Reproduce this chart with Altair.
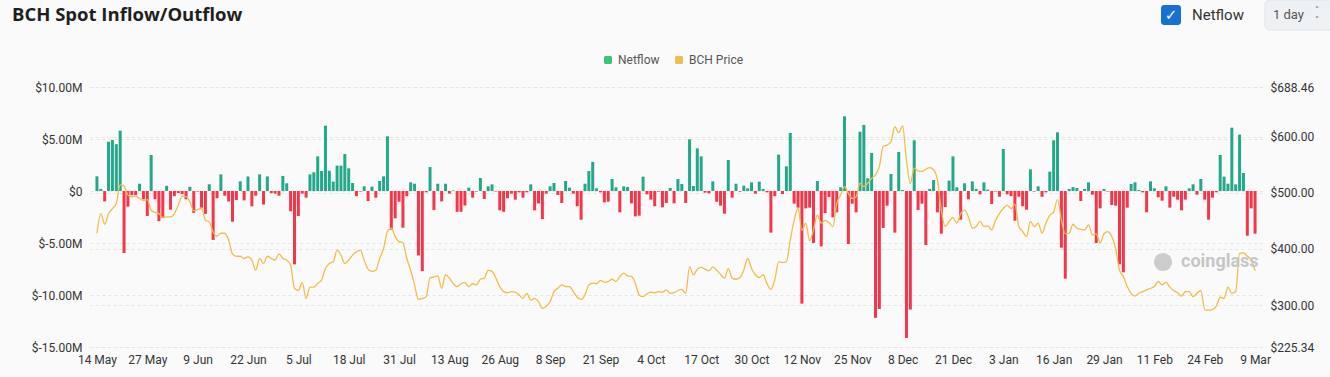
import altair as alt
import pandas as pd
import datetime as dt

# ---------------- data ----------------
start_date = "2024-05-14"
n_days = 300

netflow_m = [
    1.41, 0.2, -1.0, 4.74, 4.9, 4.5, 5.8, -5.96, -1.5, -0.4,
    -0.4, 0.7, -0.8, -2.4, 3.46, -0.8, -2.9, -2.6, 0.5, -1.8,
    -0.5, -0.2, -0.3, -0.8, 0.4, -2.1, -0.05, -1.6, -2.2, 0.65,
    -4.7, -0.7, 1.6, -0.45, -1.0, -2.95, -0.87, 0.93, -0.9, 1.4,
    -1.47, -0.45, 1.6,
    -1.3, 1.4, -0.2, -0.25, -0.45, 1.45, 0.74, -1.95, -7.05, -2.4,
    -0.25, -0.64, 1.6, 1.8, 3.33, 1.92, 6.28, 1.95, 0.9, 2.44,
    2.44, 3.56, 2.18, 0.77, -0.5, -0.05, 0.45, -0.96, 0.42, -0.64,
    0.96, 1.41, 5.26, -3.72, -2.63, -1.03, -3.53, -0.5, 0.83, 0.7,
    -6.2, -7.7, -0.13,
    2.3, -1.83, 0.7, -1.0, 0.7, -0.25, 0.05, -2.0, -2.0, -1.4,
    0.32, -0.64, -0.05, 1.25, -0.77, 0.45, 0.64, -0.05, -1.86, -2.0,
    -0.7, -0.25, -0.83, -0.13, -0.64, -0.13, 0.64, -1.86, -1.2, -2.7,
    -0.25, 0.45, 0.77, -0.38, -1.15, 0.96, 0.32, -0.25, -1.47, -2.76,
    0.7, 1.92, 2.8,
    0.26, -0.13, -1.1, -1.03, 1.15, 0.35, -2.05, 0.45, 0.38, -1.19,
    -2.44, -2.37, 1.38, -0.32, -0.83, -1.47, -0.06, -1.57, -1.15, 0.29,
    -1.19, 1.15, 0.67, -1.15, 4.97, 0.48, 4.1, 3.33, -0.16, -0.22,
    0.93, -1.03, -1.41, -2.18, 2.98, -0.64, 0.7, -0.06, 0.51, 0.26,
    0.83, -0.26, 0.9,
    0.2, -0.13, -4.0, -0.5, 3.5, -0.29, 2.37, 5.58, -1.22, -1.6,
    -10.83, -1.67, -1.6, -5.0, 0.96, -5.32, -2.12, -0.58, -2.53, -2.05,
    0.35, 7.18, -5.1, -1.22, -2.05, 5.7, 6.35, 1.22, 3.65, -12.2,
    -11.35, -3.56, -1.41, 1.63, -4.0, 3.75, 0.1, -14.13, -11.4, 4.87,
    -1.83, -1.22, -5.2,
    0.2, 1.06, -2.05, -4.1, -1.54, 1.0, 3.33, 0.35, -2.76, 0.74,
    -0.8, 0.93, 0.2, -0.32, 0.83, 0.13, -1.25, -0.05, -0.55, 4.04,
    -0.32, -0.5, -2.85, -0.55, -1.47, -1.8, 2.08, -0.05, 0.45, -0.55,
    -0.13, 1.86, 4.87, 5.64, -5.45, -8.43, 0.2, 0.38, 0.29, -0.96,
    0.2, 0.83, -0.35,
    -5.0, -1.67, 0.2, -0.05, -1.35, -1.41, -7.05, -7.82, -1.6, 0.67,
    0.83, 0.1, -0.13, -2.05, 0.93, 0.26, -0.6, -0.93, 0.45, -1.6,
    -0.55, -0.83, -1.86, -0.83, 0.26, 0.64, -0.35, 1.15, -0.83, -2.76,
    -0.64, -0.13, 3.46, 1.38, 0.7, 6.09, 0.64, 5.42, 1.73, -4.3,
    -1.67, -4.1,
]

bch_price = [
    428, 463, 444, 463, 472, 481, 514, 512, 496, 493,
    494, 490, 486, 488, 469, 465, 463, 456, 457, 457,
    463, 478, 494, 493, 484, 468, 470, 472, 451, 448,
    430, 423, 428, 428, 416, 391, 387, 387, 383, 386,
    380, 362, 383,
    374, 387, 383, 380, 391, 383, 380, 371, 330, 326,
    340, 312, 332, 332, 339, 345, 365, 374, 377, 398,
    389, 374, 380, 389, 395, 398, 380, 364, 360, 362,
    383, 401, 431, 437, 422, 413, 411, 383, 362, 336,
    310, 312, 315,
    349, 350, 352, 330, 354, 348, 338, 333, 338, 340,
    333, 338, 336, 346, 348, 362, 360, 348, 333, 324,
    322, 324, 323, 318, 312, 321, 309, 312, 306, 294,
    298, 306, 324, 330, 336, 333, 333, 324, 314, 310,
    318, 336, 339,
    338, 344, 341, 342, 346, 342, 351, 357, 352, 351,
    339, 318, 315, 320, 323, 322, 324, 323, 327, 321,
    322, 326, 328, 321, 368, 354, 364, 367, 364, 361,
    368, 362, 355, 348, 365, 348, 346, 349, 362, 383,
    365, 354, 349,
    354, 338, 328, 345, 377, 376, 377, 416, 451, 472,
    433, 446, 415, 434, 460, 446, 451, 447, 440, 481,
    496, 511, 499, 490, 493, 517, 511, 517, 526, 532,
    547, 583, 585, 591, 618, 607, 619, 558, 516, 544,
    539, 538, 542,
    545, 541, 523, 469, 440, 449, 456, 446, 463, 469,
    457, 437, 440, 449, 440, 441, 434, 451, 463, 472,
    478, 472, 480, 440, 431, 422, 449, 440, 446, 428,
    446, 460, 466, 488, 451, 427, 428, 444, 437, 435,
    434, 443, 425,
    427, 411, 427, 431, 422, 401, 362, 351, 333, 321,
    316, 321, 324, 327, 330, 333, 342, 336, 341, 332,
    326, 322, 316, 324, 324, 315, 321, 326, 292, 291,
    292, 298, 314, 312, 332, 321, 324, 392, 393, 387,
    381, 361,
]

left_ticks = [-15e6, -10e6, -5e6, 0, 5e6, 10e6]
right_ticks = [225.34, 300, 400, 500, 600, 688.46]
legend_labels = ["Netflow", "BCH Price"]

# ---------------- build table ----------------
d0 = dt.date.fromisoformat(start_date)
dates = [(d0 + dt.timedelta(days=i)).isoformat() for i in range(n_days)]
df = pd.DataFrame({
    "date": dates,
    "netflow": [v * 1e6 for v in netflow_m],
    "price": bch_price,
})

tick_dates = [d0 + dt.timedelta(days=13 * k) for k in range(24)]
tick_values = [alt.DateTime(year=d.year, month=d.month, date=d.day, utc=True) for d in tick_dates]

first = d0 - dt.timedelta(days=1)
last = d0 + dt.timedelta(days=n_days - 1)
x_domain = [
    alt.DateTime(year=first.year, month=first.month, date=first.day, hours=12, utc=True),
    alt.DateTime(year=last.year, month=last.month, date=last.day, hours=12, utc=True),
]

GREEN = "#23a88a"
RED = "#f5364a"
YELLOW = "#f0bd4c"
FONT = "Roboto"

x_enc = alt.X(
    "date:T",
    scale=alt.Scale(type="utc", domain=x_domain),
    axis=alt.Axis(
        values=tick_values, format="%-d %b", labelFlush=False, labelOverlap=False,
        grid=False, domain=False, ticks=False, tickSize=0, labelPadding=7, title=None,
        labelFont=FONT, labelFontSize=12, labelColor="#333333",
    ),
)

base = alt.Chart(df).encode(x=x_enc)

bars = base.mark_bar(width=3).encode(
    y=alt.Y(
        "netflow:Q",
        scale=alt.Scale(domain=[-15e6, 10e6], nice=False, zero=False),
        axis=alt.Axis(
            orient="left", values=left_ticks, title=None, domain=False, ticks=False, tickSize=0,
            labelPadding=8, grid=True, gridDash=[3, 3], gridColor="#e4e4e4",
            labelExpr="datum.value == 0 ? '$0' : (datum.value < 0 ? '$-' : '$') + format(abs(datum.value) / 1e6, '.2f') + 'M'",
            labelFont=FONT, labelFontSize=12, labelColor="#333333",
        ),
    ),
    y2=alt.datum(0),
    color=alt.condition("datum.netflow >= 0", alt.value(GREEN), alt.value(RED)),
)

line = base.mark_line(color=YELLOW, strokeWidth=1.3, interpolate="monotone").encode(
    y=alt.Y(
        "price:Q",
        scale=alt.Scale(domain=[225.34, 688.46], nice=False, zero=False),
        axis=alt.Axis(
            orient="right", values=right_ticks, title=None, domain=False, ticks=False, tickSize=0,
            labelPadding=8, grid=True, gridDash=[3, 3], gridColor="#e4e4e4",
            labelExpr="'$' + format(datum.value, '.2f')",
            labelFont=FONT, labelFontSize=12, labelColor="#333333",
        ),
    ),
)

main = alt.layer(bars, line).resolve_scale(y="independent")

# ---------------- decorations (title, legend, controls, watermark) ----------------
one = pd.DataFrame({"k": [0]})


def txt(text, x, y, size=12, color="#333333", weight="normal", align="left", font=FONT, baseline="middle"):
    return alt.Chart(one).mark_text(
        text=text, fontSize=size, color=color, fontWeight=weight, align=align,
        baseline=baseline, font=font,
    ).encode(x=alt.value(x), y=alt.value(y))


def box(x1, x2, y1, y2, fill, stroke=None, radius=0):
    kw = dict(fill=fill, cornerRadius=radius)
    if stroke:
        kw.update(stroke=stroke, strokeWidth=1)
    return alt.Chart(one).mark_rect(**kw).encode(
        x=alt.value(x1), x2=alt.value(x2), y=alt.value(y1), y2=alt.value(y2)
    )


decor = [
    txt("BCH Spot Inflow/Outflow", -78, -66, size=18.5, color="#1f1f1f", weight="bold",
        font="Open Sans", baseline="alphabetic"),
    # legend
    box(514, 522, -31, -23, "#35c777", radius=1.5),
    txt(legend_labels[0], 528, -27, size=12, color="#555555"),
    box(585, 593, -31, -23, YELLOW, radius=1.5),
    txt(legend_labels[1], 599, -27, size=12, color="#555555"),
    # checkbox + label
    box(1071, 1091, -82, -62, "#1a6fd3", radius=3),
    txt("✓", 1081, -72, size=15, color="white", weight="bold", align="center", font="DejaVu Sans"),
    txt("Netflow", 1102, -72, size=15, color="#333333"),
    # interval selector
    box(1175, 1250, -87, -57, "#eef1f4", stroke="#dfe3e8", radius=5),
    txt("1 day", 1183, -72, size=13, color="#555555"),
    txt("˄", 1227, -76, size=8, color="#555555", align="center", font="DejaVu Sans"),
    txt("˅", 1227, -66, size=8, color="#555555", align="center", font="DejaVu Sans"),
    # watermark
    alt.Chart(one).mark_point(filled=True, shape="circle", size=330, color="#cccccc", opacity=1).encode(
        x=alt.value(1073), y=alt.value(175)
    ),
    txt("coinglass", 1091, 175, size=18, color="#c6c6c6", weight="bold"),
]

chart = alt.layer(main, *decor).properties(
    width=1172,
    height=260,
    autosize=alt.AutoSizeParams(type="none"),
    padding={"left": 90, "top": 87, "right": 68, "bottom": 30},
    background="#fafafa",
).configure_view(stroke=None)

chart.save("out.html", embed_options={"renderer": "svg", "actions": False})
